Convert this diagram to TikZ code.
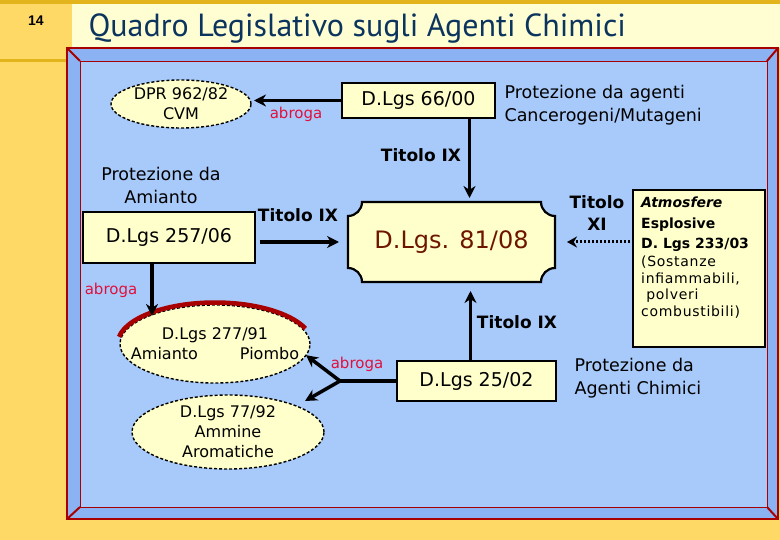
\documentclass[tikz,border=0pt]{standalone}
\usepackage{fontspec}
\setmainfont{DejaVu Sans}
\newfontfamily\titlefont{PT Sans}
\newfontfamily\pagefont{Liberation Sans}
\usetikzlibrary{arrows.meta,shapes.geometric,calc}

\definecolor{gold}{HTML}{FFD966}
\definecolor{golddark}{HTML}{E3B41C}
\definecolor{paleband}{HTML}{FFFDD2}
\definecolor{bevel}{HTML}{8BB2F2}
\definecolor{panel}{HTML}{A8CAFA}
\definecolor{framered}{HTML}{A80000}
\definecolor{notefill}{HTML}{FFFFCC}
\definecolor{abrogared}{HTML}{E0103C}
\definecolor{titleblue}{HTML}{0B355F}
\definecolor{plaquetext}{HTML}{6E1500}

\begin{document}
\begin{tikzpicture}[x=1pt, y=-1pt,
        every node/.style={font=\fontsize{19}{22}\selectfont},
        box/.style={draw=black, line width=2.2pt, fill=notefill, inner sep=0pt, outer sep=0pt},
        law/.style={ellipse, draw=black, line width=1.4pt, dash pattern=on 3pt off 2pt, fill=notefill,
            inner sep=0pt, outer sep=0pt},
        lawtext/.style={align=center, inner sep=0pt, font=\fontsize{16}{20}\selectfont},
        arr/.style={line width=3.5pt, -{Stealth[length=12pt,width=12pt]}},
        abroga/.style={text=abrogared, font=\fontsize{15}{18}\selectfont},
        titolo/.style={font=\fontsize{17}{22}\selectfont\bfseries, align=center},
        note/.style={font=\fontsize{17.5}{23}\selectfont, align=left}]
        \useasboundingbox (0,0) rectangle (780,540);

        % Slide background
        \fill[gold] (0,0) rectangle (780,540);
        \fill[paleband] (72,4) rectangle (780,48);
        \fill[golddark] (0,0) rectangle (780,4);
        \fill[golddark] (0,59) rectangle (67,62);

        % Bevelled frame
        \fill[bevel] (67,48) rectangle (778,519);
        \fill[panel] (80,61) rectangle (767,507);
        \draw[framered, line width=0.8pt] (80,61) rectangle (767,507);
        \draw[framered, line width=2pt] (67,48) rectangle (778,519);
        \draw[framered, line width=2pt] (67,48) -- (80,61) (778,48) -- (767,61)
            (67,519) -- (80,507) (778,519) -- (767,507);

        % Title
        \node[font=\pagefont\bfseries\fontsize{14}{16}\selectfont] (pagenum) at (36,21) {14};
        \node[font=\titlefont\fontsize{32}{36}\selectfont, text=titleblue, anchor=west] (title) at (85,29)
            {Quadro Legislativo sugli Agenti Chimici};

        % Laws
        \node[law, minimum width=140, minimum height=48] (dpr) at (181,104) {};
        \node[lawtext] (dprtext) at (dpr) {DPR 962/82\\CVM};
        \node[box, minimum width=153, minimum height=35] (dlgs66) at (418.5,100.5) {D.Lgs 66/00};
        \node[note, anchor=west] (protcanc) at (501,105) {Protezione da agenti\\Cancerogeni/Mutageni};
        \node[note, align=center] (protamianto) at (161,185) {Protezione da\\Amianto};
        \node[box, minimum width=172, minimum height=51] (dlgs257) at (169,237.5) {D.Lgs 257/06};
        \node[box, minimum width=159, minimum height=40] (dlgs25) at (476.5,381) {D.Lgs 25/02};
        \node[note, anchor=west] (protchim) at (571,378) {Protezione da\\Agenti Chimici};

        % Plaque of the D.Lgs. 81/08
        \draw[line width=2.2pt, fill=notefill] (362,202) -- (541,202)
            .. controls (541,209.7) and (547.3,216) .. (555,216) -- (555,268)
            .. controls (547.3,268) and (541,274.3) .. (541,282) -- (362,282)
            .. controls (362,274.3) and (355.7,268) .. (348,268) -- (348,216)
            .. controls (355.7,216) and (362,209.7) .. (362,202) -- cycle;
        \node[minimum width=207, minimum height=80, inner sep=0pt, outer sep=0pt, text=plaquetext,
            font=\fontsize{24}{28}\selectfont] (dlgs81) at (451.5,242) {D.Lgs. 81/08};

        % Atmosfere esplosive
        \node[box, minimum width=132, minimum height=157] (atex) at (699,268.5) {};
        \node[anchor=north west, align=left, inner sep=0pt, font=\fontsize{14}{16.5}\selectfont]
            (atextext) at (641,197) {{\bfseries\itshape Atmosfere}\\[4pt]
            {\bfseries Esplosive}\\[4pt]
            {\bfseries D. Lgs 233/03}\\[1.5pt]
            {\addfontfeatures{LetterSpace=5}(Sostanze}\\
            {\addfontfeatures{LetterSpace=5}infiammabili,}\\
            {\addfontfeatures{LetterSpace=5}\ polveri}\\
            {\addfontfeatures{LetterSpace=5}combustibili)}};

        % Repealed laws
        \node[law, minimum width=190, minimum height=78] (dlgs277) at (215,344) {};
        \draw[framered, line width=4.5pt] (dlgs277.center) ++(170:97.5pt and 41.5pt)
            arc[start angle=170, end angle=22, x radius=97.5pt, y radius=41.5pt];
        \node[lawtext] (dlgs277text) at (dlgs277) {D.Lgs 277/91\\Amianto\hspace{42pt}Piombo};
        \node[law, minimum width=192, minimum height=74] (dlgs77) at (228,432) {};
        \node[lawtext] (dlgs77text) at (dlgs77) {D.Lgs 77/92\\Ammine\\Aromatiche};

        % Connectors
        \draw[arr, shorten >=3pt] (dlgs66.west) -- (dlgs66.west -| dpr.east);
        \node[abroga] (abroga1) at (296,114) {abroga};

        \draw[arr, shorten >=4pt] ([xshift=51pt]dlgs66.south) -- ([xshift=51pt]dlgs66.south |- dlgs81.north);
        \node[titolo] (titolo66) at (421,155) {Titolo IX};

        \draw[arr, shorten <=5pt, shorten >=9pt] (dlgs257.east |- dlgs81.west) -- (dlgs81.west);
        \node[titolo] (titolo257) at (298,215) {Titolo IX};

        \draw[arr, shorten >=9pt] ([xshift=-6pt]dlgs25.north) -- ([xshift=-6pt]dlgs25.north |- dlgs81.south);
        \node[titolo] (titolo25) at (517,322) {Titolo IX};

        \draw[line width=3pt, dash pattern=on 2pt off 2pt, -{Stealth[length=10pt,width=11pt]},
            shorten <=3pt, shorten >=12pt] (atex.west |- dlgs81.east) -- (dlgs81.east);
        \node[titolo] (titolo233) at (597,213) {Titolo\\XI};

        \draw[arr] ([xshift=-17pt]dlgs257.south) -- ([xshift=-17pt]dlgs257.south |- dlgs277.157);
        \node[abroga] (abroga2) at (111,290) {abroga};

        \coordinate (fork) at ([xshift=-57pt]dlgs25.west);
        \coordinate (tip77) at (305,401);
        \draw[line width=3.5pt] (dlgs25.west) -- (fork);
        \draw[arr] (fork) -- (dlgs277.-7);
        \draw[arr] (fork) -- (tip77);
        \node[abroga] (abroga3) at (357,364) {abroga};
    \end{tikzpicture}
\end{document}
